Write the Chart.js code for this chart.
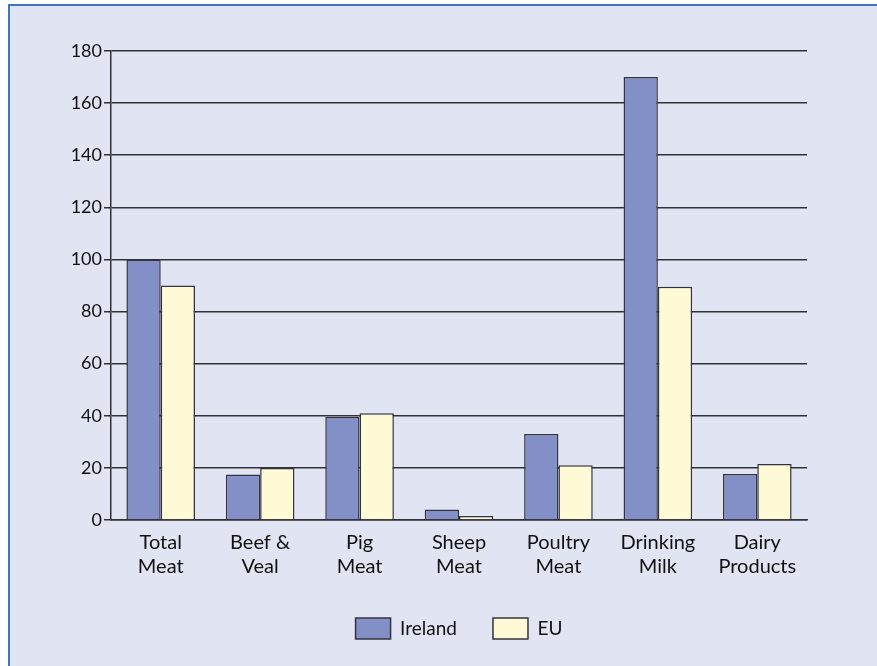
<!DOCTYPE html>
<html>
<head>
<meta charset="utf-8">
<script src="https://cdn.jsdelivr.net/npm/chart.js@4"></script>
<style>
  html, body { margin: 0; padding: 0; width: 877px; height: 666px; overflow: hidden; background: #ffffff; }
  /* blue framed panel behind the chart */
  #panel {
    position: absolute; left: 8px; top: 4px; width: 900px; height: 700px;
    background: #e0e4f3; border-top: 2px solid #3f73c4; border-left: 2px solid #3f73c4;
  }
  #wrap { position: absolute; left: 0; top: 0; width: 918px; height: 666px; }
</style>
</head>
<body>
<div id="panel"></div>
<div id="wrap"><canvas id="chart" width="918" height="666"></canvas></div>
<script>
// categories (two-line labels)
var categories = [
    ['Total', 'Meat'],
    ['Beef &', 'Veal'],
    ['Pig', 'Meat'],
    ['Sheep', 'Meat'],
    ['Poultry', 'Meat'],
    ['Drinking', 'Milk'],
    ['Dairy', 'Products']
];
var seriesNames = ['Ireland', 'EU'];
var irelandValues = [100, 17.5, 39.5, 4, 33, 170, 17.7];
var euValues = [90, 20, 41, 1.5, 21, 89.5, 21.5];
var yTicks = [0, 20, 40, 60, 80, 100, 120, 140, 160, 180];

var textColor = '#111111';
var lineColor = '#303036';

const ctx = document.getElementById('chart').getContext('2d');
const chart = new Chart(ctx, {
    type: 'bar',
    data: {
        labels: categories,
        datasets: [{
            label: seriesNames[0],
            data: irelandValues,
            backgroundColor: '#8290c7',
            borderColor: '#34343c',
            borderWidth: 1.5,
            categoryPercentage: 0.69,
            barPercentage: 1
        }, {
            label: seriesNames[1],
            data: euValues,
            backgroundColor: '#fffad6',
            borderColor: '#34343c',
            borderWidth: 1.5,
            categoryPercentage: 0.69,
            barPercentage: 1
        }]
    },
    options: {
        responsive: false,
        animation: false,
        layout: {
            padding: { left: 0, right: 111, top: 51, bottom: 17 }
        },
        plugins: {
            tooltip: { enabled: false },
            legend: {
                position: 'bottom',
                fullSize: false, //centre the legend under the plot area
                labels: {
                    boxWidth: 35,
                    boxHeight: 21,
                    padding: 36,
                    color: textColor,
                    font: { family: 'Lato', size: 19 }
                }
            }
        },
        scales: {
            x: {
                grid: { display: false },
                border: { display: true, color: lineColor, width: 1.5 },
                ticks: {
                    color: textColor,
                    font: { family: 'Lato', size: 20, lineHeight: 1.2 },
                    padding: 3,
                    maxRotation: 0
                },
                afterFit: function (scale) {
                    scale.height = 62; //fixed room for the two-line labels
                }
            },
            y: {
                min: 0,
                max: 180,
                afterBuildTicks: function (scale) {
                    scale.ticks = yTicks.map(function (v) { return { value: v }; });
                },
                grid: {
                    color: lineColor,
                    lineWidth: 1.5,
                    drawTicks: true,
                    tickLength: 7,
                    tickColor: lineColor
                },
                border: { display: true, color: lineColor, width: 1.5 },
                ticks: {
                    color: textColor,
                    font: { family: 'Lato', size: 18 },
                    padding: 2
                },
                afterFit: function (scale) {
                    scale.width = 111; //put the axis line at x=111
                }
            }
        }
    }
});
</script>
</body>
</html>
